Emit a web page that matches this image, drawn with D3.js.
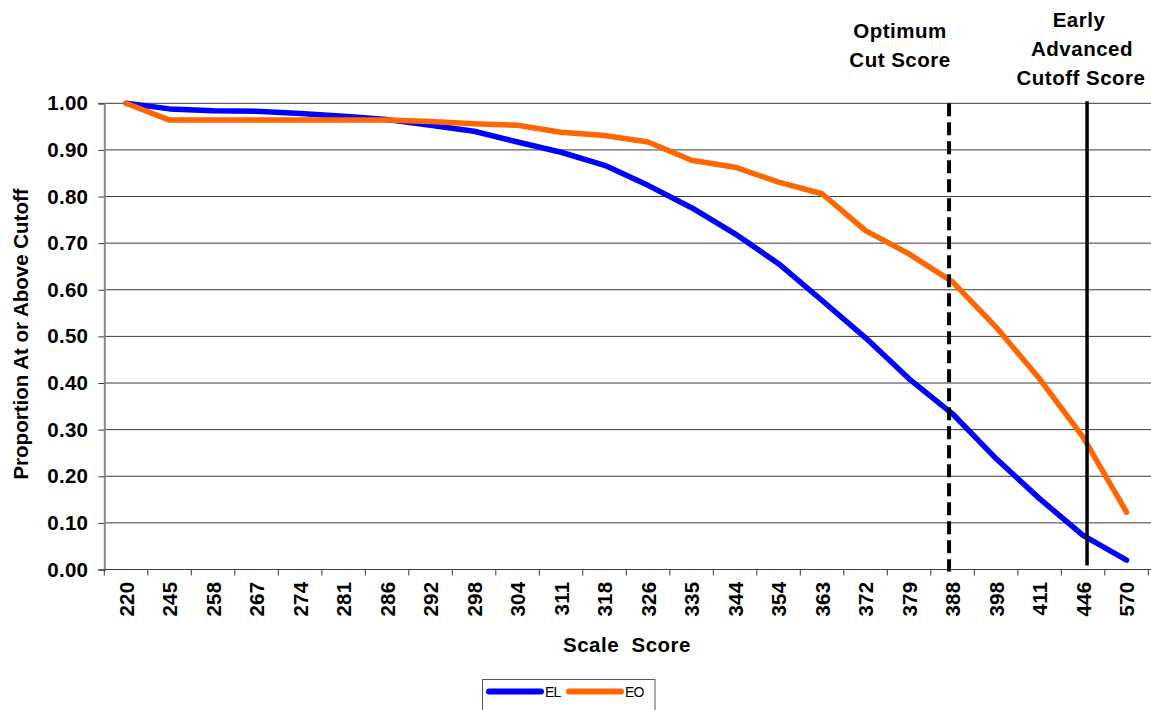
<!DOCTYPE html>
<html>
<head>
<meta charset="utf-8">
<script src="https://cdn.jsdelivr.net/npm/d3@7"></script>
<style>
  body { margin: 0; background: #fff; }
  svg { display: block; }
  text { font-family: Arial, "Liberation Sans", sans-serif; }
</style>
</head>
<body>
<div id="chart"></div>
<script>
// scale scores on the x axis
var scores = ["220", "245", "258", "267", "274", "281", "286", "292", "298", "304", "311", "318",
              "326", "335", "344", "354", "363", "372", "379", "388", "398", "411", "446", "570"];

// proportion at or above cutoff
var elValues = [1.00, 0.988, 0.984, 0.983, 0.978, 0.972, 0.965, 0.953, 0.940, 0.917, 0.895, 0.867,
                0.824, 0.776, 0.720, 0.656, 0.577, 0.497, 0.409, 0.334, 0.238, 0.152, 0.073, 0.020];
var eoValues = [1.00, 0.964, 0.964, 0.964, 0.964, 0.964, 0.964, 0.961, 0.956, 0.953, 0.938, 0.931,
                0.917, 0.878, 0.863, 0.831, 0.806, 0.727, 0.677, 0.617, 0.520, 0.409, 0.284, 0.123];

var yTicks = [0, 0.1, 0.2, 0.3, 0.4, 0.5, 0.6, 0.7, 0.8, 0.9, 1.0];

var optimumScore = "388";
var earlyAdvancedScore = "446";

var W = 1151, H = 710;
var plotL = 104.3, plotR = 1148.3, plotT = 103.3, plotB = 569.5;
var FS = "20.5px";

var svg = d3.select("#chart").append("svg")
    .attr("width", W)
    .attr("height", H);

var x = d3.scaleBand().domain(scores).range([plotL, plotR]).padding(0);
var y = d3.scaleLinear().domain([0, 1]).range([plotB, plotT]);
var cx = function (s) { return x(s) + x.bandwidth() / 2; };

// gridlines
svg.append("g").selectAll("line")
    .data(yTicks.filter(function (d) { return d > 0; }))
    .enter().append("line")
    .attr("x1", plotL).attr("x2", W)
    .attr("y1", function (d) { return y(d); })
    .attr("y2", function (d) { return y(d); })
    .attr("stroke", "#3a3a3a")
    .attr("stroke-width", 1);

// y axis
var yAxis = svg.append("g")
    .attr("transform", "translate(" + plotL + ",0)")
    .call(d3.axisLeft(y).tickValues(yTicks).tickFormat(d3.format(".2f")).tickSize(6).tickPadding(10));
yAxis.select(".domain").attr("stroke", "#888").attr("stroke-width", 2);
yAxis.selectAll(".tick line").attr("stroke", "#3a3a3a");
yAxis.selectAll(".tick text")
    .attr("font-size", FS).attr("font-weight", "bold").attr("fill", "#000")
    .style("letter-spacing", "0.3px")
    .attr("x", -16);

// x axis line + ticks at band edges
svg.append("line")
    .attr("x1", plotL).attr("x2", W)
    .attr("y1", plotB).attr("y2", plotB)
    .attr("stroke", "#3a3a3a").attr("stroke-width", 1.2);

var edges = scores.map(function (s) { return x(s); }).concat([plotR]);
svg.append("g").selectAll("line")
    .data(edges)
    .enter().append("line")
    .attr("x1", function (d) { return d; })
    .attr("x2", function (d) { return d; })
    .attr("y1", plotB).attr("y2", plotB + 6)
    .attr("stroke", "#3a3a3a");

svg.append("g").selectAll("text")
    .data(scores)
    .enter().append("text")
    .attr("transform", function (d) { return "translate(" + (cx(d) + 7.5) + "," + (plotB + 12) + ") rotate(-90)"; })
    .attr("text-anchor", "end")
    .attr("font-size", FS).attr("font-weight", "bold")
    .style("letter-spacing", "0.3px")
    .text(function (d) { return d; });

// axis titles
svg.append("text")
    .attr("x", 627).attr("y", 652)
    .attr("text-anchor", "middle")
    .attr("font-size", FS).attr("font-weight", "bold")
    .style("letter-spacing", "0.5px")
    .style("white-space", "pre")
    .text("Scale  Score");

svg.append("text")
    .attr("transform", "translate(28,334) rotate(-90)")
    .attr("text-anchor", "middle")
    .attr("font-size", FS).attr("font-weight", "bold")
    .text("Proportion At or Above Cutoff");

// series lines
var line = d3.line()
    .x(function (d, i) { return cx(scores[i]); })
    .y(function (d) { return y(d); });

svg.append("path")
    .datum(elValues)
    .attr("d", line)
    .attr("fill", "none")
    .attr("stroke", "#0000ff")
    .attr("stroke-width", 5.5)
    .attr("stroke-linejoin", "round")
    .attr("stroke-linecap", "round");

svg.append("path")
    .datum(eoValues)
    .attr("d", line)
    .attr("fill", "none")
    .attr("stroke", "#ff6600")
    .attr("stroke-width", 5.5)
    .attr("stroke-linejoin", "round")
    .attr("stroke-linecap", "round");

// cut score markers
var optX = cx(optimumScore) - 3.5;
svg.append("line")
    .attr("x1", optX).attr("x2", optX)
    .attr("y1", plotT).attr("y2", plotB + 2)
    .attr("stroke", "#000").attr("stroke-width", 4)
    .attr("stroke-dasharray", "13,6");

var earlyX = cx(earlyAdvancedScore) + 4;
svg.append("line")
    .attr("x1", earlyX).attr("x2", earlyX)
    .attr("y1", plotT - 2).attr("y2", plotB - 4)
    .attr("stroke", "#000").attr("stroke-width", 3.5);

var noteLines = [
    { t: "Optimum", x: 900, y: 38 },
    { t: "Cut Score", x: 900, y: 67 },
    { t: "Early", x: 1079, y: 27 },
    { t: "Advanced", x: 1082, y: 56 },
    { t: "Cutoff Score", x: 1081, y: 85 }
];
svg.append("g").selectAll("text")
    .data(noteLines)
    .enter().append("text")
    .attr("x", function (d) { return d.x; })
    .attr("y", function (d) { return d.y; })
    .attr("text-anchor", "middle")
    .attr("font-size", FS).attr("font-weight", "bold")
    .style("letter-spacing", "0.5px")
    .text(function (d) { return d.t; });

// legend
var legend = svg.append("g");
legend.append("rect")
    .attr("x", 482.5).attr("y", 679.5)
    .attr("width", 172.5).attr("height", 40)
    .attr("fill", "#fff").attr("stroke", "#555").attr("stroke-width", 1);

var legendItems = [
    { name: "EL", color: "#0000ff", x: 489 },
    { name: "EO", color: "#ff6600", x: 569 }
];
legend.selectAll("line")
    .data(legendItems)
    .enter().append("line")
    .attr("x1", function (d) { return d.x; })
    .attr("x2", function (d) { return d.x + 52; })
    .attr("y1", 691.5).attr("y2", 691.5)
    .attr("stroke", function (d) { return d.color; })
    .attr("stroke-width", 6)
    .attr("stroke-linecap", "round");
legend.selectAll("text")
    .data(legendItems)
    .enter().append("text")
    .attr("x", function (d) { return d.x + 56; })
    .attr("y", 697)
    .attr("font-size", "14px")
    .style("letter-spacing", "-0.8px")
    .text(function (d) { return d.name; });
</script>
</body>
</html>
